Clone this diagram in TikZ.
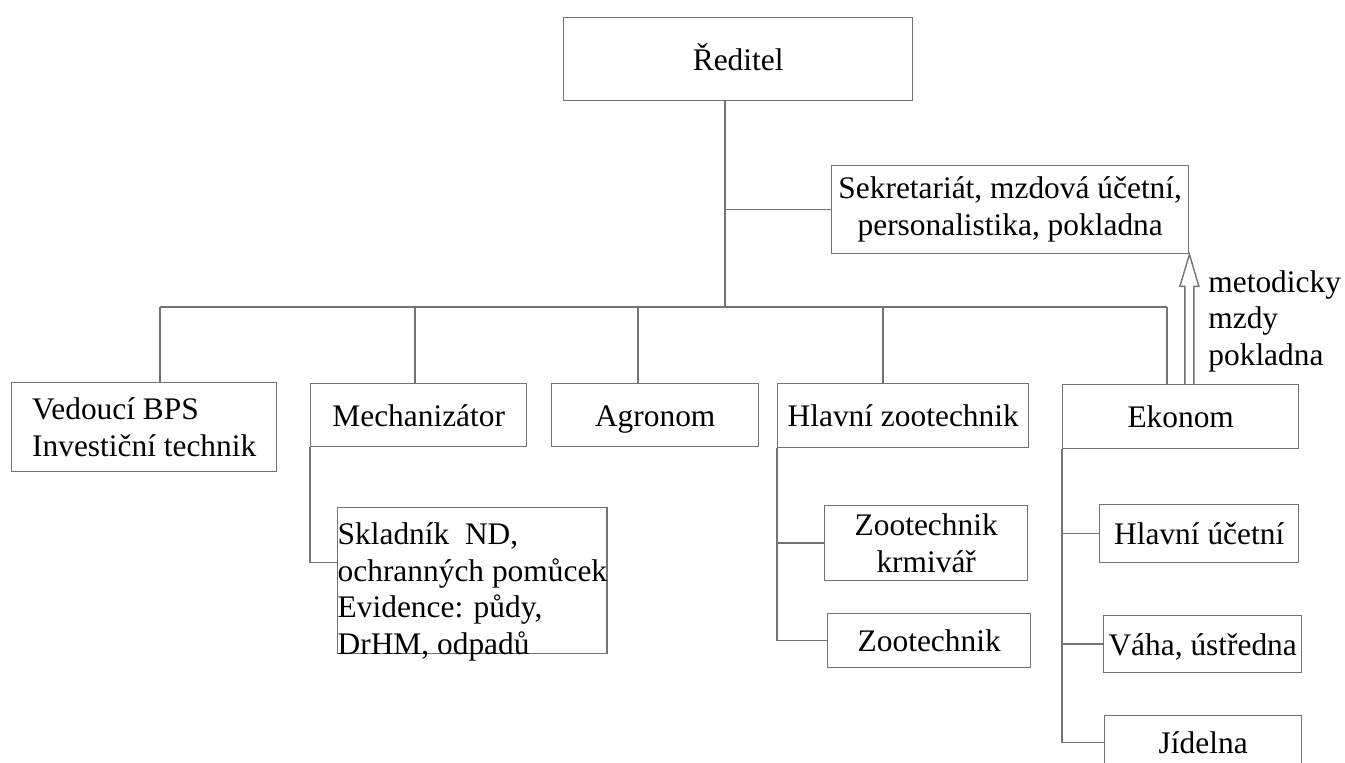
\documentclass[tikz,border=0pt]{standalone}
\usepackage{fontspec}
\setmainfont{Liberation Serif}
\usepackage{tikz}

\tikzset{
  orgbox/.style={draw=black!55, line width=0.7pt, inner sep=0pt, anchor=north west,
    text=black, font=\fontsize{15.7}{18.3}\selectfont, text height=11pt, text depth=0pt},
  orgmulti/.style={draw=black!55, line width=0.7pt, inner sep=0pt, anchor=north west,
    text=black, font=\fontsize{15.7}{18.3}\selectfont, align=center},
  orgline/.style={draw=black!55, line width=0.7pt}
}

\begin{document}
\begin{tikzpicture}[x=0.5pt,y=-0.5pt]
\useasboundingbox (0,0) rectangle (1345,763);
\clip (0,0) rectangle (1345,763);
% top
\node[orgbox, minimum width=174.5pt, minimum height=41.5pt] (red) at (563,17) {Ředitel};
\node[orgmulti, minimum width=178.5pt, minimum height=44pt] (sek) at (831,165) {Sekretariát, mzdová účetní,\\personalistika, pokladna};
% second row
\node[orgmulti, minimum width=132.5pt, minimum height=44.5pt, align=left] (ved) at (11,382) {Vedoucí BPS\\Investiční technik};
\node[orgbox, minimum width=108pt, minimum height=31.5pt] (mech) at (310,383) {Mechanizátor};
\node[orgbox, minimum width=103.5pt, minimum height=31.5pt] (agr) at (551,383) {Agronom};
\node[orgbox, minimum width=125.5pt, minimum height=32pt] (hz) at (777,383) {Hlavní zootechnik};
\node[orgbox, minimum width=118pt, minimum height=32pt] (eko) at (1062,384) {Ekonom};
% third level
\node[orgbox, minimum width=133pt, minimum height=73pt, text height=18.5pt, text depth=54.5pt] (skl) at (337,507)
  {\begin{tabular}[t]{@{}l@{}}Skladník~ ND,\\ochranných pomůcek\\Evidence: půdy,\\DrHM, odpadů\end{tabular}};
\node[orgmulti, minimum width=101.5pt, minimum height=37.5pt] (zk) at (824,505) {Zootechnik\\krmivář};
\node[orgbox, minimum width=101.5pt, minimum height=27pt] (zoo) at (827,613) {Zootechnik};
\node[orgbox, minimum width=99.5pt, minimum height=29pt] (hu) at (1099,504) {Hlavní účetní};
\node[orgbox, minimum width=99pt, minimum height=28.5pt] (vaha) at (1103,615) {Váha, ústředna};
\node[orgbox, minimum width=98.5pt, minimum height=27pt] (jid) at (1104,715) {Jídelna};

% bus
\coordinate (b1) at (160,307);
\coordinate (b2) at (415,307);
\coordinate (b3) at (638,307);
\coordinate (b4) at (883,307);
\coordinate (b5) at (1167,307);
\coordinate (trunk) at (725,100);
\draw[orgline] (trunk) -- (trunk |- b1);
\draw[orgline] (trunk |- sek.west) -- (sek.west);
\draw[orgline] (b1) -- (b5);
\foreach \n/\b in {ved/b1, mech/b2, agr/b3, hz/b4, eko/b5}
  \draw[orgline] (\b) -- (\b |- \n.north);

% sub branches
\draw[orgline] (mech.south west) |- ([yshift=9pt]skl.west);
\draw[orgline] (hz.south west) |- (zk.west);
\draw[orgline] (hz.south west) |- (zoo.west);
\draw[orgline] (eko.south west) |- (hu.west);
\draw[orgline] (eko.south west) |- (vaha.west);
\draw[orgline] (eko.south west) |- (jid.west);

% double arrow Ekonom -> Sekretariat
\coordinate (arrbase) at (sek.south east |- eko.north);
\draw[orgline, line join=miter] ([xshift=-2.25pt]arrbase) -- ([xshift=-2.25pt,yshift=-16pt]sek.south east)
  -- ([xshift=-4.75pt,yshift=-16pt]sek.south east) -- (sek.south east)
  -- ([xshift=4.75pt,yshift=-16pt]sek.south east) -- ([xshift=2.25pt,yshift=-16pt]sek.south east)
  -- ([xshift=2.25pt]arrbase);
\node[anchor=north west, inner sep=0pt, align=left, text=black,
  font=\fontsize{15.7}{18.3}\selectfont] (metlbl) at (1208,270) {metodicky\\mzdy\\pokladna};
\end{tikzpicture}
\end{document}
